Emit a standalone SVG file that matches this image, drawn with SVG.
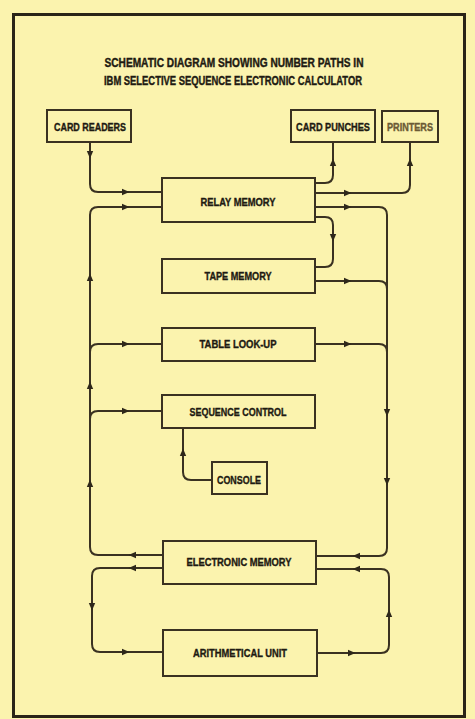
<svg xmlns="http://www.w3.org/2000/svg" width="475" height="719" viewBox="0 0 475 719">
<style>
.box{fill:none;stroke:#3a3121;stroke-width:2}
.ln{fill:none;stroke:#3a3121;stroke-width:2}
.t{font-family:"Liberation Sans",Arial,sans-serif;font-weight:bold;font-size:10.5px;fill:#1e1a12;stroke:#1e1a12;stroke-width:0.35;text-anchor:middle}
.ti{font-family:"Liberation Sans",Arial,sans-serif;font-weight:bold;font-size:12px;fill:#1e1a12;stroke:#1e1a12;stroke-width:0.4;text-anchor:middle}
</style>
<defs>
<path id="ah" d="M-4,-3.2 L3.5,0 L-4,3.2 Z" fill="#2e271a"/>
</defs>
<rect x="0" y="0" width="475" height="719" fill="#fbf3ae"/>
<rect x="13.5" y="14.5" width="451" height="702" fill="none" stroke="#2a2417" stroke-width="3"/>
<g id="title">
<text class="ti" x="234" y="67" textLength="259" lengthAdjust="spacingAndGlyphs">SCHEMATIC DIAGRAM SHOWING NUMBER PATHS IN</text>
<text class="ti" x="233" y="85" textLength="258" lengthAdjust="spacingAndGlyphs">IBM SELECTIVE SEQUENCE ELECTRONIC CALCULATOR</text>
</g>
<g id="connectors">
<path class="ln" d="M90,142 V184 Q90,192 98,192 H162"/>
<path class="ln" d="M315,183 H325 Q333,183 333,175 V142"/>
<path class="ln" d="M315,193 H402 Q410,193 410,185 V142"/>
<path class="ln" d="M315,207 H379 Q387,207 387,215 V548 Q387,556 379,556 H316"/>
<path class="ln" d="M315,281 H379 Q387,281 387,289"/>
<path class="ln" d="M315,344 H379 Q387,344 387,352"/>
<path class="ln" d="M315,217 H325 Q333,217 333,225 V259 Q333,267 325,267 H315"/>
<path class="ln" d="M163,555 H98 Q90,555 90,547 V215 Q90,207 98,207 H162"/>
<path class="ln" d="M162,344 H98 Q90,344 90,352"/>
<path class="ln" d="M162,411 H98 Q90,411 90,419"/>
<path class="ln" d="M212,480 H191 Q183,480 183,472 V428"/>
<path class="ln" d="M163,568 H100 Q92,568 92,576 V644 Q92,652 100,652 H163"/>
<path class="ln" d="M317,653 H381 Q389,653 389,645 V577 Q389,569 381,569 H316"/>
<use href="#ah" transform="translate(90,155) rotate(90)"/>
<use href="#ah" transform="translate(126,192)"/>
<use href="#ah" transform="translate(333,162) rotate(-90)"/>
<use href="#ah" transform="translate(348,193)"/>
<use href="#ah" transform="translate(410,162) rotate(-90)"/>
<use href="#ah" transform="translate(348,207)"/>
<use href="#ah" transform="translate(333,238) rotate(90)"/>
<use href="#ah" transform="translate(348,281)"/>
<use href="#ah" transform="translate(348,344)"/>
<use href="#ah" transform="translate(387,413) rotate(90)"/>
<use href="#ah" transform="translate(387,482) rotate(90)"/>
<use href="#ah" transform="translate(356,556) rotate(180)"/>
<use href="#ah" transform="translate(126,207)"/>
<use href="#ah" transform="translate(90,277) rotate(-90)"/>
<use href="#ah" transform="translate(90,385) rotate(-90)"/>
<use href="#ah" transform="translate(90,483) rotate(-90)"/>
<use href="#ah" transform="translate(126,344)"/>
<use href="#ah" transform="translate(126,411)"/>
<use href="#ah" transform="translate(132,555) rotate(180)"/>
<use href="#ah" transform="translate(183,452) rotate(-90)"/>
<use href="#ah" transform="translate(132,568) rotate(180)"/>
<use href="#ah" transform="translate(92,607) rotate(90)"/>
<use href="#ah" transform="translate(126,652)"/>
<use href="#ah" transform="translate(352,653)"/>
<use href="#ah" transform="translate(389,613) rotate(-90)"/>
<use href="#ah" transform="translate(356,569) rotate(180)"/>
</g>
<g id="card-readers"><rect class="box" x="47" y="110" width="84" height="32"/><text class="t" x="90" y="131" textLength="72" lengthAdjust="spacingAndGlyphs">CARD READERS</text></g>
<g id="card-punches"><rect class="box" x="291" y="110" width="84" height="32"/><text class="t" x="333" y="131" textLength="74" lengthAdjust="spacingAndGlyphs">CARD PUNCHES</text></g>
<g id="printers"><rect class="box" x="382" y="111" width="56" height="31" stroke-width="2.5"/><text class="t" x="410" y="131" textLength="46" lengthAdjust="spacingAndGlyphs" style="fill:#6b5a35;stroke:#6b5a35">PRINTERS</text></g>
<g id="relay-memory"><rect class="box" x="162" y="178" width="153" height="44"/><text class="t" x="238" y="206" textLength="75" lengthAdjust="spacingAndGlyphs">RELAY MEMORY</text></g>
<g id="tape-memory"><rect class="box" x="162" y="259" width="153" height="34"/><text class="t" x="238" y="280" textLength="67" lengthAdjust="spacingAndGlyphs">TAPE MEMORY</text></g>
<g id="table-look-up"><rect class="box" x="162" y="328" width="153" height="33"/><text class="t" x="238" y="348" textLength="77" lengthAdjust="spacingAndGlyphs">TABLE LOOK-UP</text></g>
<g id="sequence-control"><rect class="box" x="162" y="395" width="153" height="33"/><text class="t" x="238" y="416" textLength="97" lengthAdjust="spacingAndGlyphs">SEQUENCE CONTROL</text></g>
<g id="console"><rect class="box" x="212" y="462" width="55" height="32"/><text class="t" x="239" y="484" textLength="44" lengthAdjust="spacingAndGlyphs">CONSOLE</text></g>
<g id="electronic-memory"><rect class="box" x="163" y="541" width="153" height="43"/><text class="t" x="239" y="566" textLength="105" lengthAdjust="spacingAndGlyphs">ELECTRONIC MEMORY</text></g>
<g id="arithmetical-unit"><rect class="box" x="163" y="630" width="154" height="46"/><text class="t" x="240" y="657" textLength="94" lengthAdjust="spacingAndGlyphs">ARITHMETICAL UNIT</text></g>
</svg>
